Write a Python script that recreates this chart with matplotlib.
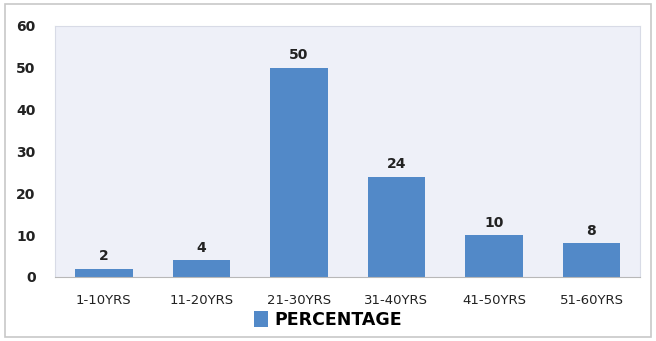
import matplotlib.pyplot as plt
from matplotlib.patches import Rectangle

categories = ["1-10YRS", "11-20YRS", "21-30YRS", "31-40YRS", "41-50YRS", "51-60YRS"]
percentage = [2, 4, 50, 24, 10, 8]
yticks = [0, 10, 20, 30, 40, 50, 60]

bar_color = "#5289C8"

fig = plt.figure(figsize=(6.56, 3.41), dpi=100)
fig.patch.set_facecolor("white")
fig.add_artist(Rectangle((0.008, 0.012), 0.984, 0.975, transform=fig.transFigure,
                         fill=False, edgecolor="#c8c8c8", linewidth=1.2))

ax = fig.add_axes([0.084, 0.188, 0.892, 0.736])
ax.set_facecolor("#EEF0F8")

x = range(len(categories))
bars = ax.bar(x, percentage, width=0.59, color=bar_color, label="PERCENTAGE", zorder=2)
for rect, v in zip(bars, percentage):
    ax.text(rect.get_x() + rect.get_width() / 2, v + 1.3, str(v),
            ha="center", va="bottom", fontsize=10, fontweight="bold", color="#222222")

ax.set_xlim(-0.5, len(categories) - 0.5)
ax.set_ylim(0, 60)
ax.set_yticks(yticks)
ax.set_xticks(list(x))
ax.set_xticklabels(categories, fontsize=9.5, color="#222222")
ax.tick_params(axis="y", labelsize=10, length=0, pad=14, labelcolor="#222222")
ax.tick_params(axis="x", length=0, pad=12)
for lbl in ax.get_yticklabels():
    lbl.set_fontweight("bold")

for side in ["top", "right", "left"]:
    ax.spines[side].set_color("#d8dbe6")
ax.spines["bottom"].set_color("#b8b8b8")

leg = fig.legend(loc="lower center", bbox_to_anchor=(0.5, -0.01), frameon=False,
                 prop={"size": 12.5, "weight": "bold"}, handlelength=0.8, handleheight=1.1,
                 handletextpad=0.4)

plt.savefig("out.png", dpi=100)
